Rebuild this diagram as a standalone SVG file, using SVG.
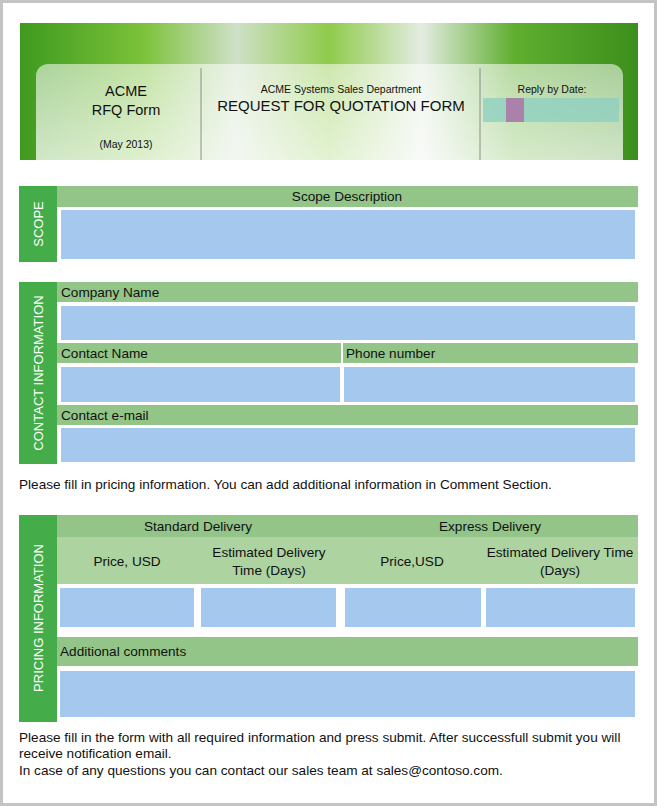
<svg xmlns="http://www.w3.org/2000/svg" width="657" height="806" viewBox="0 0 657 806">
<defs>
<style>
text{font-family:"Liberation Sans",Arial,sans-serif;font-size:13.6px;fill:#111}
.side{fill:#44ad4a}.bar{fill:#93c588}.sub{fill:#acd3a0}.in{fill:#a4c8ee}
.st{fill:#fff;font-size:13px}
</style>
<linearGradient id="bg" x1="0" y1="0" x2="1" y2="0">
<stop offset="0" stop-color="#3e9a1e"/><stop offset="0.2" stop-color="#7cc23a"/><stop offset="0.35" stop-color="#cfe0c8"/><stop offset="0.5" stop-color="#8fcb4a"/><stop offset="0.65" stop-color="#e4ece2"/><stop offset="0.8" stop-color="#5fae2f"/><stop offset="1" stop-color="#3c8f1c"/>
</linearGradient>
<linearGradient id="pan" x1="0" y1="0" x2="0" y2="1">
<stop offset="0" stop-color="#fff" stop-opacity="0.55"/><stop offset="1" stop-color="#fff" stop-opacity="0.75"/>
</linearGradient>
</defs>
<rect x="1.5" y="1.5" width="654" height="803" fill="#fff" stroke="#c4c4c4" stroke-width="3"/>
<g id="header">
<rect x="20" y="23" width="618" height="137" fill="url(#bg)"/>
<path d="M36 160V76a12 12 0 0 1 12-12h563a12 12 0 0 1 12 12v84z" fill="url(#pan)"/>
<line x1="201" y1="68" x2="201" y2="160" stroke="#777" stroke-width="0.8"/>
<line x1="480" y1="68" x2="480" y2="160" stroke="#777" stroke-width="0.8"/>
<text x="126" y="96" text-anchor="middle" style="font-size:14.5px">ACME</text>
<text x="126" y="115" text-anchor="middle" style="font-size:14.5px">RFQ Form</text>
<text x="126" y="148" text-anchor="middle" style="font-size:10.5px">(May 2013)</text>
<text x="341" y="93" text-anchor="middle" style="font-size:10.5px">ACME Systems Sales Department</text>
<text x="341" y="111" text-anchor="middle" style="font-size:15px">REQUEST FOR QUOTATION FORM</text>
<text x="552" y="93" text-anchor="middle" style="font-size:10.5px">Reply by Date:</text>
<rect x="483" y="98" width="136" height="24" fill="#8ecfc0" opacity="0.8"/>
<rect x="506" y="98" width="18" height="24" fill="#b060a0" opacity="0.7"/>
</g>
<g id="scope">
<rect class="side" x="19" y="186" width="38" height="76"/>
<text class="st" transform="translate(43,224) rotate(-90)" text-anchor="middle">SCOPE</text>
<rect class="bar" x="57" y="186" width="581" height="21"/>
<text x="347" y="201" text-anchor="middle">Scope Description</text>
<rect class="in" x="61" y="210" width="574" height="49"/>
</g>
<g id="contact">
<rect class="side" x="19" y="282" width="38" height="182"/>
<text class="st" transform="translate(43,373) rotate(-90)" text-anchor="middle">CONTACT INFORMATION</text>
<rect class="bar" x="57" y="282" width="581" height="20"/>
<text x="61" y="297">Company Name</text>
<rect class="in" x="61" y="306" width="574" height="34"/>
<rect class="bar" x="57" y="343" width="284" height="20"/>
<text x="61" y="358">Contact Name</text>
<rect class="bar" x="343" y="343" width="295" height="20"/>
<text x="346" y="358">Phone number</text>
<rect class="in" x="61" y="367" width="279" height="35"/>
<rect class="in" x="344" y="367" width="291" height="35"/>
<rect class="bar" x="57" y="405" width="581" height="20"/>
<text x="61" y="420">Contact e-mail</text>
<rect class="in" x="61" y="428" width="574" height="34"/>
</g>
<text x="19" y="489">Please fill in pricing information. You can add additional information in Comment Section.</text>
<g id="pricing">
<rect class="side" x="19" y="515" width="38" height="207"/>
<text class="st" transform="translate(43,618) rotate(-90)" text-anchor="middle">PRICING INFORMATION</text>
<rect class="bar" x="57" y="515" width="581" height="22"/>
<rect class="sub" x="57" y="537" width="581" height="47"/>
<text x="198" y="531" text-anchor="middle">Standard Delivery</text>
<text x="490" y="531" text-anchor="middle">Express Delivery</text>
<text x="127" y="566" text-anchor="middle">Price, USD</text>
<text x="269" y="557" text-anchor="middle">Estimated Delivery</text>
<text x="269" y="575" text-anchor="middle">Time (Days)</text>
<text x="412" y="566" text-anchor="middle">Price,USD</text>
<text x="560" y="557" text-anchor="middle">Estimated Delivery Time</text>
<text x="560" y="575" text-anchor="middle">(Days)</text>
<rect class="in" x="60" y="588" width="134" height="39"/>
<rect class="in" x="201" y="588" width="135" height="39"/>
<rect class="in" x="345" y="588" width="136" height="39"/>
<rect class="in" x="486" y="588" width="149" height="39"/>
<rect class="bar" x="57" y="637" width="581" height="29"/>
<text x="60" y="656">Additional comments</text>
<rect class="in" x="60" y="671" width="575" height="46"/>
</g>
<text x="19" y="742">Please fill in the form with all required information and press submit. After successfull submit you will</text>
<text x="19" y="758">receive notification email.</text>
<text x="19" y="775">In case of any questions you can contact our sales team at sales@contoso.com.</text>
</svg>
